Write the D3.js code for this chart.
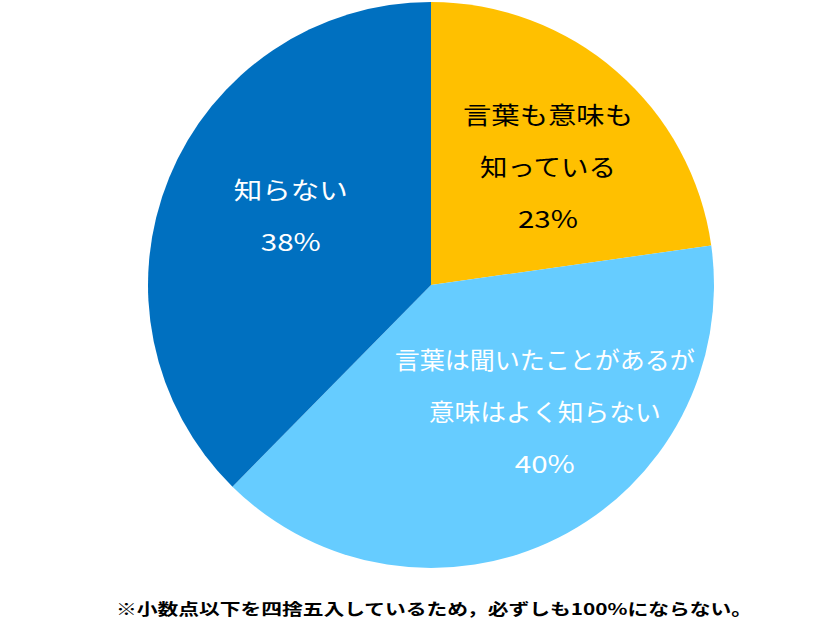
<!DOCTYPE html>
<html><head><meta charset="utf-8">
<script src="https://cdn.jsdelivr.net/npm/d3@7/dist/d3.min.js"></script>
<style>
html,body{margin:0;padding:0;background:#fff;}
svg{display:block;}
</style></head>
<body>
<svg id="chart" width="840" height="640"></svg>
<script>
// ---- data ----
const categories = ["言葉も意味も知っている", "言葉は聞いたことがあるが意味はよく知らない", "知らない"];
const values = [23, 40, 38];
const labelLines = [
  ["言葉も意味も", "知っている"],
  ["言葉は聞いたことがあるが", "意味はよく知らない"],
  ["知らない"]
];
const note = "※小数点以下を四捨五入しているため，必ずしも100%にならない。";

// ---- styling / layout ----
const colors = ["#FFC000", "#66CCFF", "#0070C0"];
const textColors = ["#000000", "#ffffff", "#ffffff"];
const labelAngleDeg = [44.8, 138.3, 296];   // label anchor angle (clockwise from top)
const labelRadius = [166, 171, 156];
const lineWidths = [[170, 136, 60], [300, 232, 60], [114, 60]];
const cx = 431, cy = 285, R = 283;
const lineH = 52;
const font = "'Noto Sans CJK JP','Noto Sans',sans-serif";

const svg = d3.select("#chart");
const g = svg.append("g").attr("transform", `translate(${cx},${cy})`);

const data = categories.map((c, i) => ({ c, v: values[i], i }));
const pie = d3.pie().value(d => d.v).sort(null);
const arc = d3.arc().innerRadius(0).outerRadius(R);
const arcs = pie(data);

g.selectAll("path").data(arcs).join("path")
  .attr("d", arc)
  .attr("fill", d => colors[d.data.i]);

arcs.forEach(a => {
  const i = a.data.i;
  const ang = labelAngleDeg[i] * Math.PI / 180;
  const x = labelRadius[i] * Math.sin(ang);
  const y = -labelRadius[i] * Math.cos(ang);
  const lines = labelLines[i].concat([a.data.v + "%"]);
  const n = lines.length;
  lines.forEach((t, k) => {
    g.append("text")
      .attr("x", x)
      .attr("y", y + (k - (n - 1) / 2) * lineH)
      .attr("dy", "0.36em")
      .attr("text-anchor", "middle")
      .attr("font-family", font)
      .attr("font-size", 24)
      .attr("fill", textColors[i])
      .attr("textLength", lineWidths[i][k])
      .attr("lengthAdjust", "spacingAndGlyphs")
      .text(t);
  });
});

svg.append("text")
  .attr("x", 434).attr("y", 609).attr("dy", "0.36em")
  .attr("text-anchor", "middle")
  .attr("font-family", font)
  .attr("font-size", 16)
  .attr("font-weight", "bold")
  .attr("fill", "#000")
  .attr("textLength", 636)
  .attr("lengthAdjust", "spacingAndGlyphs")
  .text(note);
</script>
</body></html>
